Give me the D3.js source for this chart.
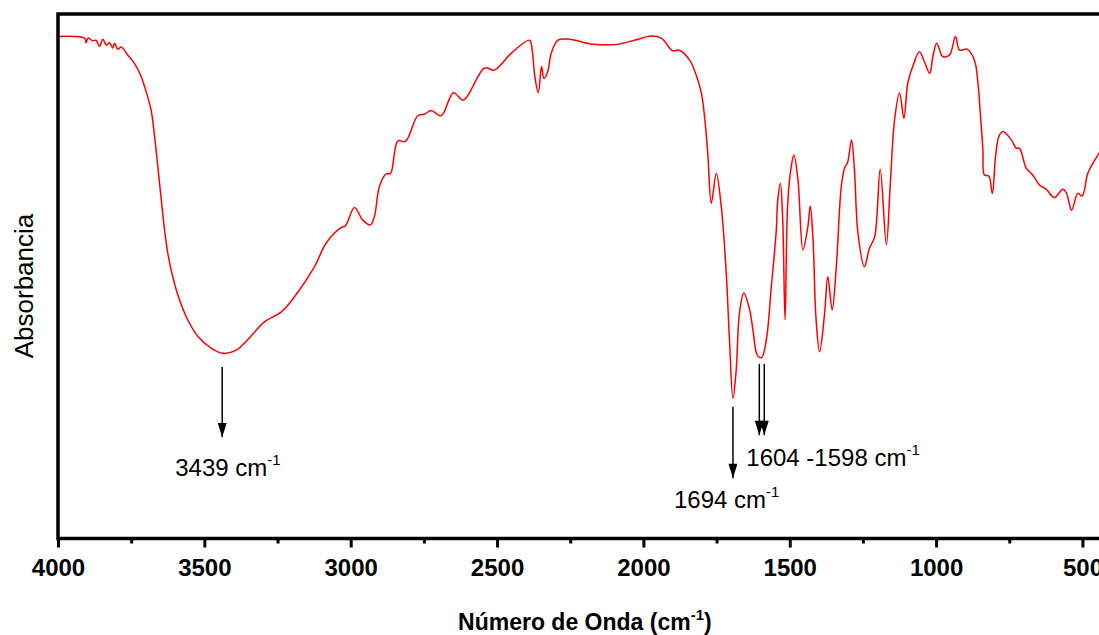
<!DOCTYPE html>
<html lang="en">
<head>
    <meta charset="utf-8">
    <style>
        body { margin: 0; background: #fff; }
        svg { display: block; }
        text { font-family: Arial, "Liberation Sans", sans-serif; }
    </style>
</head>
<body>
    <svg width="1099" height="635"></svg>
    <script src="https://cdn.jsdelivr.net/npm/d3@7"></script>
    <script>
        /************************************************************************************
        * Data (absorbance in arbitrary units 0-100)
        ************************************************************************************/
        const wavenumber = [4000, 3909, 3904, 3898, 3881, 3870, 3858, 3847, 3835, 3824, 3813, 3807, 3796, 3784,
            3762, 3739, 3716, 3699, 3682, 3670, 3659, 3647, 3636, 3625, 3608, 3585, 3557, 3522, 3477, 3437,
            3391, 3352, 3295, 3237, 3192, 3124, 3084, 3032, 3018, 2987, 2959, 2933, 2919, 2902, 2879, 2864,
            2839, 2813, 2771, 2748, 2725, 2691, 2649, 2615, 2543, 2509, 2452, 2389, 2380, 2371, 2359, 2348,
            2340, 2327, 2315, 2292, 2252, 2178, 2093, 2030, 1973, 1939, 1900, 1877, 1842, 1820, 1802, 1791,
            1780, 1768, 1751, 1734, 1717, 1706, 1694, 1683, 1672, 1657, 1637, 1626, 1615, 1608, 1596, 1580,
            1563, 1546, 1541, 1532, 1524, 1516, 1507, 1495, 1486, 1472, 1455, 1438, 1430, 1421, 1410, 1398,
            1381, 1370, 1355, 1341, 1324, 1313, 1302, 1289, 1279, 1267, 1245, 1228, 1210, 1191, 1170, 1157,
            1142, 1125, 1110, 1097, 1080, 1057, 1040, 1022, 1011, 998, 977, 954, 934, 920, 894, 869, 857,
            849, 840, 835, 820, 808, 797, 786, 772, 743, 726, 715, 692, 670, 647, 624, 596, 567, 555, 537,
            516, 501, 482, 465, 445, 430];
        const absorbance = [95.7, 95.4, 94.5, 95.4, 94.9, 95.0, 93.8, 95.2, 94.1, 94.5, 93.5, 94.4, 93.3, 93.7,
            92.2, 90.6, 88.1, 85.2, 81.7, 76.6, 70.9, 64.5, 58.8, 54.4, 49.9, 45.5, 41.7, 38.5, 36.3, 35.3,
            35.9, 37.9, 41.3, 43.2, 46.1, 51.8, 56.3, 59.3, 59.6, 63.1, 60.7, 59.8, 61.4, 67.1, 69.5, 69.6,
            75.8, 75.7, 80.6, 80.9, 81.6, 80.6, 85.0, 83.6, 89.7, 89.3, 92.5, 95.0, 93.1, 88.1, 85.0, 90.0,
            87.7, 89.0, 92.5, 95.0, 95.2, 94.3, 94.2, 95.0, 95.8, 95.4, 93.0, 93.1, 91.2, 88.4, 84.9, 80.4,
            73.4, 63.9, 69.6, 63.3, 50.6, 37.9, 26.7, 32.1, 42.9, 46.8, 43.6, 39.8, 35.6, 34.7, 34.5, 37.9,
            48.0, 58.8, 64.5, 67.7, 60.7, 41.7, 63.9, 70.9, 73.1, 68.4, 55.0, 59.5, 63.4, 57.5, 41.7, 35.6,
            42.9, 49.9, 43.6, 51.8, 67.1, 70.6, 71.8, 76.0, 70.3, 58.2, 51.8, 55.3, 57.5, 70.4, 56.0, 67.1,
            79.8, 85.0, 80.1, 86.8, 90.0, 92.8, 90.9, 88.7, 91.9, 94.4, 91.9, 92.2, 95.7, 93.1, 93.3, 91.2, 86.8,
            81.1, 74.1, 69.3, 69.1, 65.8, 72.8, 76.6, 77.6, 76.0, 74.4, 74.4, 70.6, 69.3, 67.4, 66.6, 65.0, 66.6, 65.9, 62.6,
            65.8, 65.3, 69.6, 71.5, 73.3, 74.5];

        const majorTicks = [4000, 3500, 3000, 2500, 2000, 1500, 1000, 500];
        const minorTicks = [3750, 3250, 2750, 2250, 1750, 1250, 750];

        // Marked peaks: where each arrow sits, arrow top / tip (absorbance units), labels
        const arrowWn = [3439, 1694, 1604, 1587];
        const arrowTop = [32.7, 25.1, 33.3, 33.3];
        const arrowTip = [19.3, 11.5, 19.7, 19.7];
        const peakLabels = ["3439 cm", "1694 cm", "1604 -1598 cm"];

        /************************************************************************************
        * Scales
        ************************************************************************************/
        const svg = d3.select("svg");
        const plotLeft = 58, plotTop = 14, plotBottom = 538.5;
        const pxPerUnit = 0.2927;

        const x = d3.scaleLinear().domain([4000, 400]).range([plotLeft, plotLeft + 3600 * pxPerUnit]);
        const y = d3.scaleLinear().domain([0, 100]).range([plotBottom, plotTop]);

        const data = wavenumber.map((w, i) => ({ w: w, a: absorbance[i] }));

        /************************************************************************************
        * Spectrum
        ************************************************************************************/
        const line = d3.line()
            .x(d => x(d.w))
            .y(d => y(d.a))
            .curve(d3.curveCatmullRom.alpha(0.5));

        svg.append("path")
            .datum(data)
            .attr("fill", "none")
            .attr("stroke", "#ff0000")
            .attr("stroke-width", 1.5)
            .attr("d", line);

        /************************************************************************************
        * Axes and frame
        ************************************************************************************/
        const xAxis = svg.append("g")
            .attr("transform", `translate(0, ${plotBottom})`)
            .call(d3.axisBottom(x).tickValues(majorTicks).tickSize(9).tickPadding(11).tickFormat(d3.format("d")));
        xAxis.select(".domain").remove();
        xAxis.selectAll(".tick line").attr("stroke-width", 3);
        xAxis.selectAll(".tick text")
            .attr("font-size", 24).attr("font-weight", "bold")
            .attr("font-family", "Arial, 'Liberation Sans', sans-serif")
            .attr("fill", "#000");

        const xMinor = svg.append("g")
            .attr("transform", `translate(0, ${plotBottom})`)
            .call(d3.axisBottom(x).tickValues(minorTicks).tickSize(5).tickFormat(""));
        xMinor.select(".domain").remove();
        xMinor.selectAll(".tick line").attr("stroke-width", 3);

        // frame (right side runs past the window edge)
        svg.append("rect")
            .attr("x", plotLeft).attr("y", plotTop)
            .attr("width", x(400) - plotLeft).attr("height", plotBottom - plotTop)
            .attr("fill", "none")
            .attr("stroke", "#000")
            .attr("stroke-width", 3.5);

        // axis titles
        const xTitle = svg.append("text")
            .attr("x", (x(4000) + x(400)) / 2).attr("y", 630)
            .attr("text-anchor", "middle")
            .attr("font-size", 23).attr("font-weight", "bold");
        xTitle.append("tspan").text("Número de Onda (cm");
        xTitle.append("tspan").attr("dy", -10).attr("font-size", 15).text("-1");
        xTitle.append("tspan").attr("dy", 10).text(")");

        svg.append("text")
            .attr("transform", "translate(33, 286) rotate(-90)")
            .attr("text-anchor", "middle")
            .attr("font-size", 26)
            .text("Absorbancia");

        /************************************************************************************
        * Peak arrows
        ************************************************************************************/
        const defs = svg.append("defs");
        defs.append("marker")
            .attr("id", "arrow")
            .attr("viewBox", "0 0 10 16")
            .attr("refX", 5).attr("refY", 16)
            .attr("markerWidth", 9).attr("markerHeight", 15)
            .attr("markerUnits", "userSpaceOnUse")
            .attr("orient", "0")
            .append("path")
            .attr("d", "M0,0 L10,0 L5,16 Z")
            .attr("fill", "#000");

        arrowWn.forEach((w, i) => {
            svg.append("line")
                .attr("x1", x(w)).attr("x2", x(w))
                .attr("y1", y(arrowTop[i])).attr("y2", y(arrowTip[i]))
                .attr("stroke", "#000")
                .attr("stroke-width", 1.5)
                .attr("marker-end", "url(#arrow)");
        });

        // label positions relative to the arrow tips
        const labelDx = [-47, -59, -13];
        const labelDy = [39, 30, 31];
        peakLabels.forEach((lab, i) => {
            const t = svg.append("text")
                .attr("x", x(arrowWn[i]) + labelDx[i])
                .attr("y", y(arrowTip[i]) + labelDy[i])
                .attr("font-size", 24);
            t.append("tspan").text(lab);
            t.append("tspan").attr("dy", -11).attr("font-size", 15).text("-1");
        });
    </script>
</body>
</html>
